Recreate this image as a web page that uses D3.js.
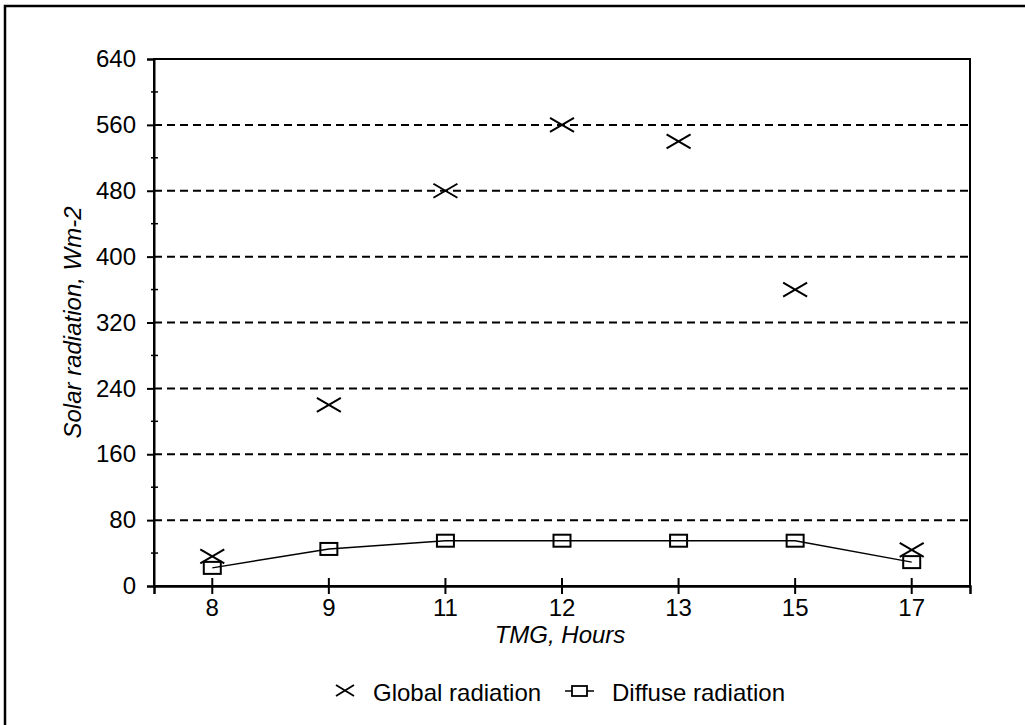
<!DOCTYPE html>
<html>
<head>
<meta charset="utf-8">
<script src="https://cdn.jsdelivr.net/npm/d3@7"></script>
<style>
  body { margin: 0; background: #fff; }
  svg { font-family: Arial, 'Liberation Sans', sans-serif; }
</style>
</head>
<body>
<svg id="chart" width="1025" height="725"></svg>
<script>
const hours = ['8', '9', '11', '12', '13', '15', '17'];
const globalRad = [36, 220, 480, 560, 540, 360, 44];
const diffuseRad = [22, 45, 55, 55, 55, 55, 29];
const yTicks = [0, 80, 160, 240, 320, 400, 480, 560, 640];
const yMinor = [40, 120, 200, 280, 360, 440, 520, 600];

const svg = d3.select('#chart');
const margins = { top: 59, right: 55, bottom: 139, left: 154 };
const width = 1025 - margins.left - margins.right;
const height = 725 - margins.top - margins.bottom;

// outer frame (only left + top visible, rest runs off the page)
svg.append('rect').attr('x', 5).attr('y', 6).attr('width', 1040).attr('height', 740)
  .attr('fill', 'none').attr('stroke', '#000').attr('stroke-width', 2.5);

const g = svg.append('g').attr('transform', 'translate(' + margins.left + ',' + margins.top + ')');

const x = d3.scaleBand().domain(hours).range([0, width]);
const y = d3.scaleLinear().domain([0, 640]).range([height, 0]);
const cx = d => x(d) + x.bandwidth() / 2;

// dashed grid
g.append('g').selectAll('line').data(yTicks.filter(v => v > 0 && v < 640)).enter().append('line')
  .attr('x1', 0).attr('x2', width).attr('y1', d => y(d)).attr('y2', d => y(d))
  .attr('stroke', '#000').attr('stroke-width', 2).attr('stroke-dasharray', '8,5');

// plot frame
g.append('rect').attr('width', width).attr('height', height)
  .attr('fill', 'none').attr('stroke', '#000').attr('stroke-width', 2);

// y axis
const yAxis = d3.axisLeft(y).tickValues(yTicks).tickSize(7).tickPadding(11);
const ya = g.append('g').call(yAxis);
ya.select('.domain').attr('stroke-width', 2);
ya.selectAll('.tick line').attr('stroke-width', 2);
ya.selectAll('text').attr('font-size', 24).attr('fill', '#000');
g.append('g').selectAll('line').data(yMinor).enter().append('line')
  .attr('x1', -3).attr('x2', 4).attr('y1', d => y(d)).attr('y2', d => y(d))
  .attr('stroke', '#000').attr('stroke-width', 1.5);

// x axis
const xAxis = d3.axisBottom(x).tickSizeOuter(0).tickSize(8).tickPadding(5);
const xa = g.append('g').attr('transform', 'translate(0,' + height + ')').call(xAxis);
xa.select('.domain').attr('stroke-width', 2.5);
xa.selectAll('.tick line').attr('y1', -8).attr('stroke-width', 2);
xa.selectAll('text').attr('font-size', 24).attr('fill', '#000');

// axis titles
svg.append('text').attr('transform', 'translate(72,' + (margins.top + height / 2) + ') rotate(-90)')
  .attr('text-anchor', 'middle').attr('dominant-baseline', 'central')
  .attr('font-size', 24).attr('font-style', 'italic').text('Solar radiation, Wm-2');
svg.append('text').attr('x', margins.left + width / 2 - 2).attr('y', 643)
  .attr('text-anchor', 'middle').attr('font-size', 24).attr('font-style', 'italic').text('TMG, Hours');

// diffuse line
const line = d3.line().x((d, i) => cx(hours[i])).y(d => y(d));
g.append('path').datum(diffuseRad).attr('d', line)
  .attr('fill', 'none').attr('stroke', '#000').attr('stroke-width', 1.5);

const boxW = 17, boxH = 12, crossW = 12, crossH = 7;
g.append('g').selectAll('rect').data(diffuseRad).enter().append('rect')
  .attr('x', (d, i) => cx(hours[i]) - boxW / 2).attr('y', d => y(d) - boxH / 2)
  .attr('width', boxW).attr('height', boxH)
  .attr('fill', 'none').attr('stroke', '#000').attr('stroke-width', 2);

const cross = (px, py) => 'M' + (px - crossW) + ',' + (py - crossH) + 'L' + (px + crossW) + ',' + (py + crossH) +
  'M' + (px - crossW) + ',' + (py + crossH) + 'L' + (px + crossW) + ',' + (py - crossH);
g.append('g').selectAll('path').data(globalRad).enter().append('path')
  .attr('d', (d, i) => cross(cx(hours[i]), y(d)))
  .attr('fill', 'none').attr('stroke', '#000').attr('stroke-width', 2);

// legend
const lg = svg.append('g').attr('transform', 'translate(0,691)');
lg.append('path').attr('d', 'M336,-6L354,5M336,5L354,-6').attr('stroke', '#000').attr('stroke-width', 1.8).attr('fill', 'none');
lg.append('text').attr('x', 373).attr('y', 1).attr('dominant-baseline', 'central').attr('font-size', 24).text('Global radiation');
lg.append('line').attr('x1', 565).attr('x2', 594).attr('y1', 0).attr('y2', 0).attr('stroke', '#000').attr('stroke-width', 1.5);
lg.append('rect').attr('x', 572).attr('y', -5).attr('width', 15).attr('height', 10).attr('fill', '#fff').attr('stroke', '#000').attr('stroke-width', 1.8);
lg.append('text').attr('x', 612).attr('y', 1).attr('dominant-baseline', 'central').attr('font-size', 24).text('Diffuse radiation');
</script>
</body>
</html>
